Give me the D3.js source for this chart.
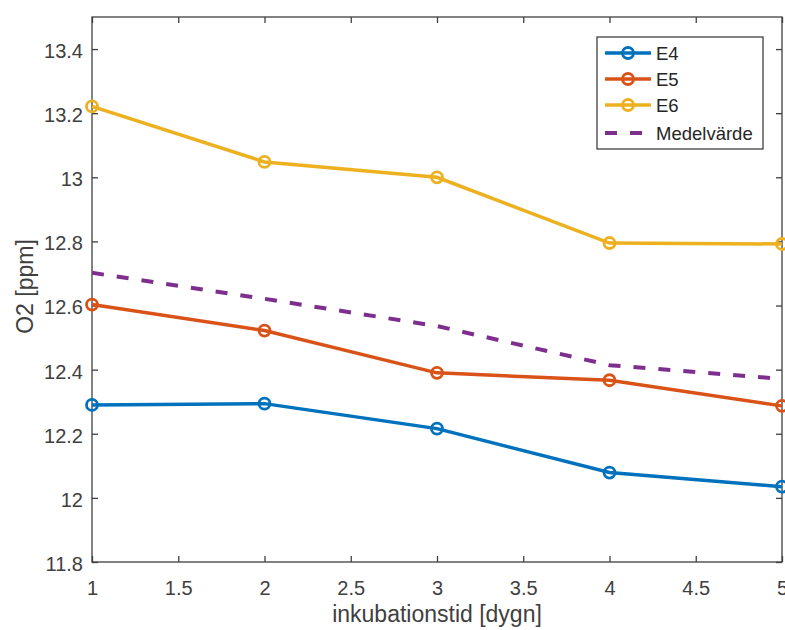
<!DOCTYPE html>
<html>
<head>
<meta charset="utf-8">
<script src="https://cdn.jsdelivr.net/npm/d3@7"></script>
<style>
body{margin:0;background:#fff}
svg{font-family:"Liberation Sans",Arial,sans-serif}
</style>
</head>
<body>
<svg id="chart" width="785" height="630"></svg>
<script>
// data
var days = [1, 2, 3, 4, 5]
var e4 = [12.29, 12.294, 12.216, 12.079, 12.035]
var e5 = [12.603, 12.522, 12.39, 12.367, 12.287]
var e6 = [13.221, 13.048, 13.0, 12.795, 12.792]
var mean = [12.702, 12.621, 12.536, 12.414, 12.371]
var xTicks = [1, 1.5, 2, 2.5, 3, 3.5, 4, 4.5, 5]
var yTicks = [11.8, 12, 12.2, 12.4, 12.6, 12.8, 13, 13.2, 13.4]
var seriesNames = ['E4', 'E5', 'E6', 'Medelvärde']

var colors = ['#0072BD', '#D95319', '#EDB120', '#7E2F8E']
var axisColor = '#404040'

var svg = d3.select('svg#chart')
var pl = 92, pr = 782, pt = 17, pb = 562

var x = d3.scaleLinear().domain([1, 5]).range([pl, pr])
var y = d3.scaleLinear().domain([11.8, 13.5]).range([pb, pt])

// box
svg.append('rect')
  .attr('x', pl).attr('y', pt)
  .attr('width', pr - pl).attr('height', pb - pt)
  .attr('fill', 'none').attr('stroke', axisColor).attr('stroke-width', 1.3)

var fmt = function(d){ return d3.format('')(+d.toFixed(1)) }

var xAxis = svg.append('g').attr('transform', 'translate(0,' + pb + ')')
  .call(d3.axisBottom(x).tickValues(xTicks).tickSize(-6).tickPadding(19).tickFormat(fmt))
var xAxisTop = svg.append('g').attr('transform', 'translate(0,' + pt + ')')
  .call(d3.axisTop(x).tickValues(xTicks).tickSize(-6).tickFormat(''))
var yAxis = svg.append('g').attr('transform', 'translate(' + pl + ',0)')
  .call(d3.axisLeft(y).tickValues(yTicks).tickSize(-6).tickPadding(9).tickFormat(fmt))
var yAxisRight = svg.append('g').attr('transform', 'translate(' + pr + ',0)')
  .call(d3.axisRight(y).tickValues(yTicks).tickSize(-6).tickFormat(''))

;[xAxis, xAxisTop, yAxis, yAxisRight].forEach(function(g){
  g.select('.domain').remove()
  g.selectAll('line').attr('stroke', axisColor).attr('stroke-width', 1.3)
  g.selectAll('text').attr('fill', axisColor).style('font-size', '20px').style('font-family', '"Liberation Sans",Arial,sans-serif')
})
yAxis.selectAll('text').attr('dy', '0.42em')

// axis titles
svg.append('text')
  .attr('x', (pl + pr) / 2).attr('y', 622)
  .attr('text-anchor', 'middle')
  .attr('fill', axisColor).style('font-size', '23px')
  .text('inkubationstid [dygn]')
svg.append('text')
  .attr('transform', 'translate(33,' + ((pt + pb) / 2 - 3) + ') rotate(-90)')
  .attr('text-anchor', 'middle')
  .attr('fill', axisColor).style('font-size', '23px')
  .text('O2 [ppm]')

var line = d3.line()
  .x(function(d, i){ return x(days[i]) })
  .y(function(d){ return y(d) })

var plot = svg.append('g')
var solid = [e4, e5, e6]
solid.forEach(function(s, k){
  plot.append('path').datum(s)
    .attr('d', line)
    .attr('fill', 'none')
    .attr('stroke', colors[k])
    .attr('stroke-width', 3.5)
  plot.selectAll('circle.s' + k)
    .data(s)
    .enter()
    .append('circle')
    .attr('class', 's' + k)
    .attr('cx', function(d, i){ return x(days[i]) })
    .attr('cy', function(d){ return y(d) })
    .attr('r', 5.5)
    .attr('fill', 'none')
    .attr('stroke', colors[k])
    .attr('stroke-width', 2.8)
})
plot.append('path').datum(mean)
  .attr('d', line)
  .attr('fill', 'none')
  .attr('stroke', colors[3])
  .attr('stroke-width', 4)
  .attr('stroke-dasharray', '12,13')

// legend
var lg = svg.append('g')
lg.append('rect')
  .attr('x', 597).attr('y', 37).attr('width', 166).attr('height', 112)
  .attr('fill', '#fff').attr('stroke', axisColor).attr('stroke-width', 1.3)
var rowY = [53, 79, 105, 133]
seriesNames.forEach(function(name, k){
  var yy = rowY[k]
  lg.append('line')
    .attr('x1', 605).attr('x2', 651).attr('y1', yy).attr('y2', yy)
    .attr('stroke', colors[k]).attr('stroke-width', k == 3 ? 4 : 3.5)
    .attr('stroke-dasharray', k == 3 ? '12,13' : null)
  if(k < 3){
    lg.append('circle')
      .attr('cx', 628).attr('cy', yy).attr('r', 5.5)
      .attr('fill', 'none').attr('stroke', colors[k]).attr('stroke-width', 2.8)
  }
  lg.append('text')
    .attr('x', 656).attr('y', yy + 7)
    .attr('fill', '#262626').style('font-size', '18.5px')
    .text(name)
})
</script>
</body>
</html>
